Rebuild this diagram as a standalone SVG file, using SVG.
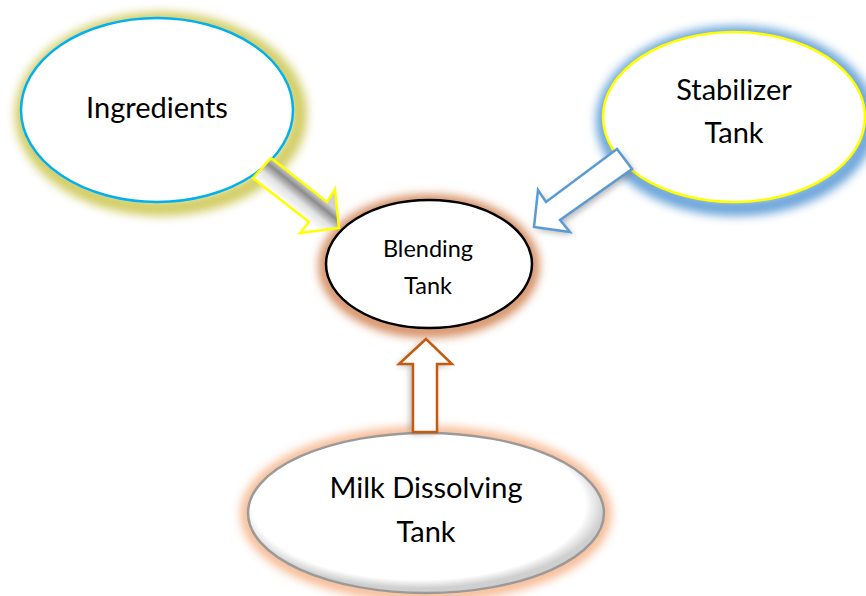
<svg xmlns="http://www.w3.org/2000/svg" width="866" height="596" viewBox="0 0 866 596">
  <defs>
    <style>
      .lbl { font-family: Lato, "Open Sans", "Liberation Sans", sans-serif; fill: #000; text-anchor: middle; }
      .big { font-size: 29px; }
      .small { font-size: 23.5px; }
      .node { fill: #fff; }
    </style>
    <filter id="glow" x="-20%" y="-20%" width="140%" height="140%">
      <feGaussianBlur stdDeviation="5"/>
    </filter>
    <filter id="shadow" x="-30%" y="-30%" width="160%" height="160%">
      <feGaussianBlur stdDeviation="3"/>
    </filter>
    <linearGradient id="yellowFill" gradientUnits="userSpaceOnUse" x1="299" y1="180" x2="282" y2="201">
      <stop offset="0" stop-color="#d0d0d0"/>
      <stop offset="0.25" stop-color="#8c8c8c"/>
      <stop offset="0.6" stop-color="#e2e2e2"/>
      <stop offset="1" stop-color="#ffffff"/>
    </linearGradient>
    <radialGradient id="milkFill" cx="0.48" cy="0.45" r="0.52">
      <stop offset="0.9" stop-color="#ffffff"/>
      <stop offset="1" stop-color="#cfcfcf"/>
    </radialGradient>
  </defs>

  <!-- Ingredients -->
  <g id="ingredients">
    <ellipse cx="161" cy="114" rx="138" ry="94" fill="none" stroke="#c9c44a" stroke-width="16" opacity="0.85" filter="url(#glow)"/>
    <ellipse class="node" cx="157" cy="110" rx="136" ry="92" stroke="#00b0f0" stroke-width="2.5"/>
    <text class="lbl big" x="157" y="118">Ingredients</text>
  </g>

  <!-- Stabilizer Tank -->
  <g id="stabilizer">
    <ellipse cx="736" cy="121" rx="132" ry="87" fill="none" stroke="#5b9bd5" stroke-width="16" opacity="0.9" filter="url(#glow)"/>
    <ellipse class="node" cx="734" cy="117" rx="131" ry="85" stroke="#ffff00" stroke-width="2.5"/>
    <text class="lbl big" x="734" y="100">Stabilizer</text>
    <text class="lbl big" x="734" y="143">Tank</text>
  </g>

  <!-- Blending Tank -->
  <g id="blending">
    <ellipse cx="429" cy="266" rx="104" ry="65" fill="none" stroke="#d0804f" stroke-width="13" opacity="0.9" filter="url(#glow)"/>
    <ellipse class="node" cx="429" cy="264" rx="103" ry="64" stroke="#000" stroke-width="2.5"/>
    <text class="lbl small" x="428" y="257">Blending</text>
    <text class="lbl small" x="428" y="294">Tank</text>
  </g>

  <!-- Milk Dissolving Tank -->
  <g id="milk">
    <ellipse cx="426" cy="514" rx="179" ry="81" fill="none" stroke="#f5ad80" stroke-width="13" opacity="0.85" filter="url(#glow)"/>
    <ellipse cx="426" cy="513" rx="178" ry="80" fill="url(#milkFill)" stroke="#9a9a9a" stroke-width="2.5"/>
    <text class="lbl big" x="426" y="498">Milk Dissolving</text>
    <text class="lbl big" x="426" y="542">Tank</text>
  </g>

  <!-- Connectors: block arrows into the blending tank -->
  <g id="connectors">
    <!-- from Ingredients -->
    <polygon points="271,158 327,202 335,189 339,228 300,233 309,222 253,178" fill="url(#yellowFill)" stroke="#ffff00" stroke-width="2.5" stroke-linejoin="miter"/>
    <!-- from Stabilizer Tank -->
    <polygon points="620,152 635,172 563,223 573,235 537,230 541,193 549,205" fill="#777" opacity="0.55" filter="url(#shadow)"/>
    <polygon points="617,149 632,169 560,220 570,232 534,227 538,190 546,202" fill="#fff" stroke="#5b9bd5" stroke-width="2.5" stroke-linejoin="miter"/>
    <!-- from Milk Dissolving Tank -->
    <polygon points="424,341 397,366 410,366 410,434 435,434 435,366 450,366" fill="#777" opacity="0.55" filter="url(#shadow)"/>
    <polygon points="426,339 399,364 413,364 413,432 437,432 437,364 452,364" fill="#fff" stroke="#c55a11" stroke-width="2.5" stroke-linejoin="miter"/>
  </g>
</svg>
